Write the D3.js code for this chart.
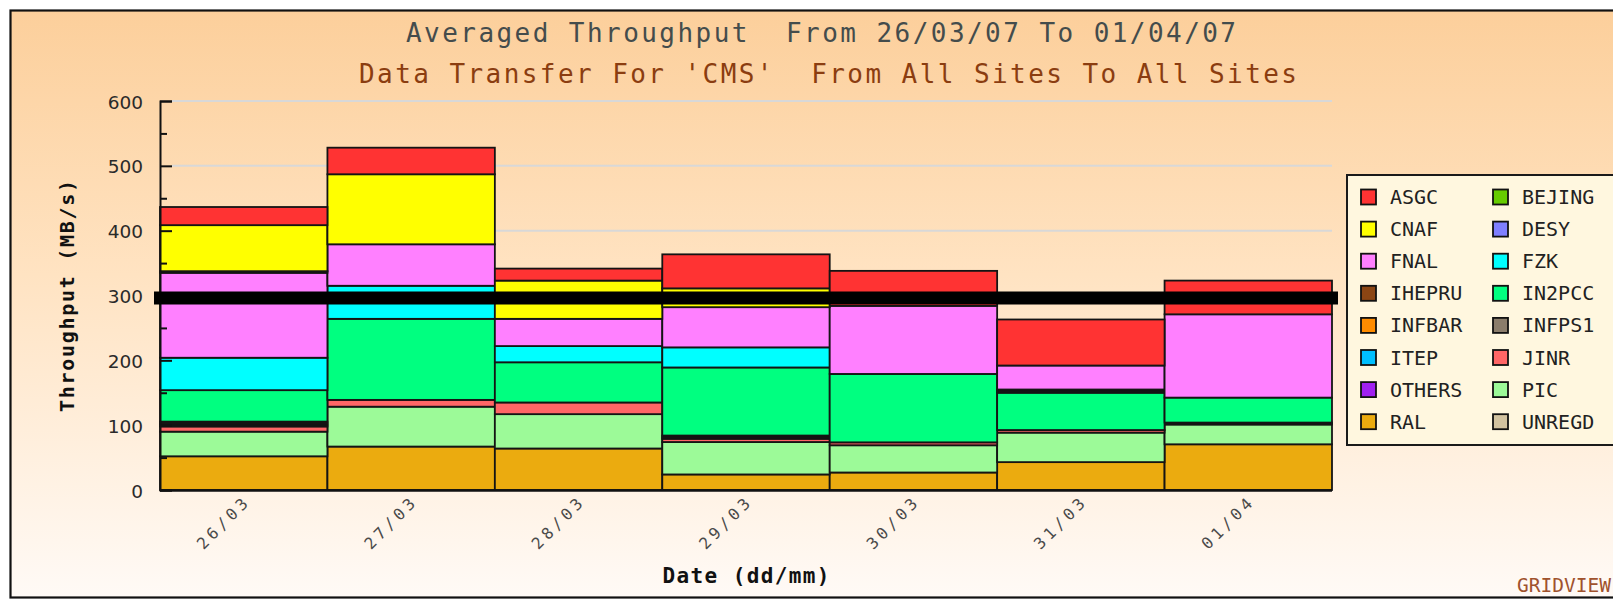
<!DOCTYPE html>
<html>
<head>
<meta charset="utf-8">
<script src="https://cdn.jsdelivr.net/npm/d3@7"></script>
<style>
  html, body { margin: 0; padding: 0; background: #ffffff; }
  svg { display: block; }
  .pre { white-space: pre; }
</style>
</head>
<body>
<svg id="chart" width="1613" height="600"></svg>
<script>
// ---------------- DATA ----------------
const dates = ["26/03", "27/03", "28/03", "29/03", "30/03", "31/03", "01/04"];

// legend order (alphabetical); stacked bottom-up in reverse order
const sites = ["ASGC", "BEJING", "CNAF", "DESY", "FNAL", "FZK", "IHEPRU", "IN2PCC",
               "INFBAR", "INFPS1", "ITEP", "JINR", "OTHERS", "PIC", "RAL", "UNREGD"];

const siteColors = ["#ff3333", "#66cc00", "#ffff00", "#7f7fff", "#ff80ff", "#00ffff", "#8b4513", "#00ff80",
                    "#ff8c00", "#8b7d6b", "#00bfff", "#ff6666", "#a020f0", "#9cfa98", "#ebab0f", "#d2c3a0"];

// MB/s per site per day (same order as dates)
const ASGC   = [28, 41, 18.5, 52.5, 54, 71, 52];
const BEJING = [0, 0, 0, 0, 0, 0, 0];
const CNAF   = [71, 108, 59, 29, 0, 0, 0];
const DESY   = [2.5, 0, 0, 0, 0, 0, 0];
const FNAL   = [131, 64, 42, 62, 105, 37, 128.5];
const FZK    = [50, 51, 25, 31, 0, 2.5, 0];
const IHEPRU = [0, 0, 0, 0, 0, 2.5, 0];
const IN2PCC = [48.5, 125, 62, 105, 105.5, 57.5, 38.5];
const INFBAR = [2.5, 0, 0, 0, 0, 0, 0];
const INFPS1 = [2.5, 0, 0, 2.5, 0, 0, 1.5];
const ITEP   = [2.5, 0, 0, 2.5, 0, 0, 0];
const JINR   = [8, 10.5, 18, 5, 4.5, 4, 1.5];
const OTHERS = [0, 0, 0, 0, 0, 0, 0];
const PIC    = [38, 61.5, 53, 50, 42, 45.5, 30.5];
const RAL    = [52, 67, 64, 24, 27, 43, 70.5];
const UNREGD = [0, 0, 0, 0, 0, 0, 0];

const averageLine = 296;

const yTicks = [0, 100, 200, 300, 400, 500, 600];
const yMinorTicks = [50, 150, 250, 350, 450, 550];

const titleMain = "Averaged Throughput  From 26/03/07 To 01/04/07";
const titleSub = "Data Transfer For 'CMS'  From All Sites To All Sites";
const yLabel = "Throughput (MB/s)";
const xLabel = "Date (dd/mm)";
const footer = "GRIDVIEW";

// ---------------- BUILD TABLE ----------------
const seriesValues = {ASGC, BEJING, CNAF, DESY, FNAL, FZK, IHEPRU, IN2PCC, INFBAR, INFPS1, ITEP, JINR, OTHERS, PIC, RAL, UNREGD};
const table = dates.map((d, i) => {
  const row = {date: d};
  sites.forEach(s => row[s] = seriesValues[s][i]);
  return row;
});
const stackOrder = sites.slice().reverse();
const stacked = d3.stack().keys(stackOrder)(table);
const color = d3.scaleOrdinal().domain(sites).range(siteColors);

// ---------------- LAYOUT ----------------
const svg = d3.select("#chart");
const plot = {left: 160, right: 1332, top: 101, bottom: 490};

const defs = svg.append("defs");
const grad = defs.append("linearGradient").attr("id", "bg").attr("x1", 0).attr("y1", 0).attr("x2", 0).attr("y2", 1);
grad.append("stop").attr("offset", "0%").attr("stop-color", "#fccf9b");
grad.append("stop").attr("offset", "45%").attr("stop-color", "#ffe3c2");
grad.append("stop").attr("offset", "100%").attr("stop-color", "#fffaf6");

svg.append("rect").attr("x", 0).attr("y", 0).attr("width", 1613).attr("height", 600).attr("fill", "#ffffff");
svg.append("rect").attr("x", 10.5).attr("y", 10.5).attr("width", 1650).attr("height", 587)
  .attr("fill", "url(#bg)").attr("stroke", "#111").attr("stroke-width", 2.2);

const x = d3.scaleBand().domain(dates).range([plot.left, plot.right]).paddingInner(0).paddingOuter(0);
const y = d3.scaleLinear().domain([0, 600]).range([plot.bottom, plot.top]);

// gridlines
svg.append("g").selectAll("line").data(yTicks.filter(t => t > 0)).join("line")
  .attr("x1", plot.left + 12).attr("x2", plot.right)
  .attr("y1", d => y(d)).attr("y2", d => y(d))
  .attr("stroke", "#d8d8d8").attr("stroke-width", 2);

// bars
const layers = svg.append("g").selectAll("g").data(stacked).join("g")
  .attr("fill", d => color(d.key));
layers.selectAll("rect").data(d => d.filter(p => p[1] - p[0] > 0)).join("rect")
  .attr("x", d => x(d.data.date))
  .attr("width", x.bandwidth())
  .attr("y", d => y(d[1]))
  .attr("height", d => y(d[0]) - y(d[1]))
  .attr("stroke", "#141414").attr("stroke-width", 1.8);

// y axis
const yAxis = svg.append("g").attr("transform", `translate(${plot.left},0)`)
  .call(d3.axisRight(y).tickValues(yTicks).tickSize(12).tickFormat(""));
yAxis.select(".domain").attr("stroke", "#111").attr("stroke-width", 2);
yAxis.selectAll(".tick line").attr("stroke", "#111").attr("stroke-width", 2);
const yMinor = svg.append("g").attr("transform", `translate(${plot.left},0)`)
  .call(d3.axisRight(y).tickValues(yMinorTicks).tickSize(7).tickFormat(""));
yMinor.select(".domain").remove();
yMinor.selectAll(".tick line").attr("stroke", "#111").attr("stroke-width", 2);

svg.append("g").selectAll("text").data(yTicks).join("text")
  .attr("x", 143).attr("y", d => y(d) + 1)
  .attr("text-anchor", "end").attr("dominant-baseline", "central")
  .attr("font-family", "DejaVu Sans").attr("font-size", 18.5).attr("fill", "#2a2a2a")
  .text(d => d);

// x axis line
svg.append("line").attr("x1", plot.left).attr("x2", plot.right)
  .attr("y1", plot.bottom + 0.5).attr("y2", plot.bottom + 0.5)
  .attr("stroke", "#111").attr("stroke-width", 2.5);

// x tick labels
svg.append("g").selectAll("text").data(dates).join("text")
  .attr("transform", d => `translate(${x(d) + x.bandwidth() / 2 + 5},${plot.bottom + 15}) rotate(-45)`)
  .attr("text-anchor", "end")
  .attr("font-family", "DejaVu Sans Mono").attr("font-size", 16).attr("fill", "#4a4a4a")
  .attr("textLength", 64).attr("lengthAdjust", "spacing")
  .text(d => d);

// average line
svg.append("line").datum(averageLine)
  .attr("x1", plot.left - 6).attr("x2", plot.right + 6)
  .attr("y1", d => y(d)).attr("y2", d => y(d))
  .attr("stroke", "#000").attr("stroke-width", 13);

// titles
svg.append("text").attr("class", "pre").attr("x", 406).attr("y", 42)
  .attr("font-family", "DejaVu Sans Mono").attr("font-size", 26).attr("fill", "#444c4c")
  .attr("textLength", 830).attr("lengthAdjust", "spacing")
  .text(titleMain);
svg.append("text").attr("class", "pre").attr("x", 359).attr("y", 83)
  .attr("font-family", "DejaVu Sans Mono").attr("font-size", 26).attr("fill", "#8b3d10")
  .attr("textLength", 938).attr("lengthAdjust", "spacing")
  .text(titleSub);

// axis titles
svg.append("text").attr("transform", "translate(74,296) rotate(-90)")
  .attr("text-anchor", "middle")
  .attr("font-family", "DejaVu Sans Mono").attr("font-weight", "bold").attr("font-size", 20).attr("fill", "#111")
  .attr("textLength", 232).attr("lengthAdjust", "spacing")
  .text(yLabel);
svg.append("text").attr("x", 746).attr("y", 583)
  .attr("text-anchor", "middle")
  .attr("font-family", "DejaVu Sans Mono").attr("font-weight", "bold").attr("font-size", 21).attr("fill", "#111")
  .attr("textLength", 167).attr("lengthAdjust", "spacing")
  .text(xLabel);

// footer
svg.append("text").attr("x", 1517).attr("y", 592)
  .attr("font-family", "DejaVu Sans Mono").attr("font-size", 20).attr("fill", "#a0522d")
  .attr("textLength", 94).attr("lengthAdjust", "spacingAndGlyphs")
  .text(footer);

// legend
const legend = svg.append("g");
legend.append("rect").attr("x", 1347).attr("y", 175).attr("width", 300).attr("height", 270)
  .attr("fill", "#fff7df").attr("stroke", "#1a1a1a").attr("stroke-width", 2);
const items = legend.selectAll("g.item").data(sites).join("g").attr("class", "item")
  .attr("transform", (d, i) => `translate(${i % 2 === 0 ? 1361 : 1493},${197 + Math.floor(i / 2) * 32.1})`);
items.append("rect").attr("x", 0).attr("y", -7.5).attr("width", 15).attr("height", 15)
  .attr("fill", d => color(d)).attr("stroke", "#111").attr("stroke-width", 1.8);
items.append("text").attr("x", 29).attr("y", 7)
  .attr("font-family", "DejaVu Sans Mono").attr("font-size", 20).attr("fill", "#222")
  .text(d => d);
</script>
</body>
</html>
